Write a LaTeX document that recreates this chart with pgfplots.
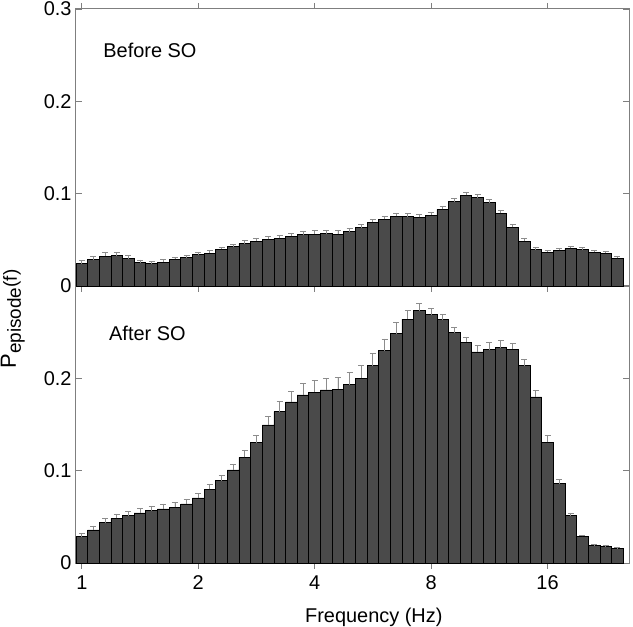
\documentclass[border=0pt]{standalone}
\usepackage{fontspec}
\setmainfont{Liberation Sans}
\usepackage{pgfplots}
\pgfplotsset{compat=1.18}
\usepackage{pgfplotstable}

\definecolor{axisgray}{HTML}{7F7F7F}
\definecolor{barfill}{HTML}{4A4A4A}
\definecolor{errgray}{HTML}{8C8C8C}

\pgfplotstableread{
x y e
0.0 0.0240 0.0035
0.1 0.0284 0.0035
0.2 0.0323 0.0036
0.3 0.0330 0.0036
0.4 0.0295 0.0033
0.5 0.0252 0.0030
0.6 0.0240 0.0025
0.7 0.0258 0.0025
0.8 0.0288 0.0025
0.9 0.0306 0.0025
1.0 0.0338 0.0025
1.1 0.0356 0.0025
1.2 0.0396 0.0025
1.3 0.0425 0.0028
1.4 0.0460 0.0030
1.5 0.0486 0.0033
1.6 0.0505 0.0033
1.7 0.0515 0.0035
1.8 0.0537 0.0036
1.9 0.0555 0.0036
2.0 0.0562 0.0036
2.1 0.0566 0.0036
2.2 0.0562 0.0036
2.3 0.0590 0.0036
2.4 0.0630 0.0036
2.5 0.0689 0.0033
2.6 0.0721 0.0033
2.7 0.0754 0.0033
2.8 0.0750 0.0033
2.9 0.0743 0.0033
3.0 0.0768 0.0033
3.1 0.0830 0.0033
3.2 0.0913 0.0036
3.3 0.0982 0.0036
3.4 0.0957 0.0030
3.5 0.0903 0.0033
3.6 0.0787 0.0036
3.7 0.0635 0.0036
3.8 0.0486 0.0030
3.9 0.0393 0.0020
4.0 0.0367 0.0020
4.1 0.0385 0.0025
4.2 0.0407 0.0025
4.3 0.0393 0.0025
4.4 0.0363 0.0025
4.5 0.0353 0.0025
4.6 0.0298 0.0020
}\before

\pgfplotstableread{
x y e
0.0 0.0285 0.0036
0.1 0.0358 0.0043
0.2 0.0437 0.0047
0.3 0.0484 0.0047
0.4 0.0513 0.0050
0.5 0.0542 0.0050
0.6 0.0567 0.0050
0.7 0.0585 0.0054
0.8 0.0603 0.0050
0.9 0.0639 0.0050
1.0 0.0704 0.0047
1.1 0.0798 0.0050
1.2 0.0892 0.0054
1.3 0.1008 0.0061
1.4 0.1143 0.0072
1.5 0.1305 0.0080
1.6 0.1495 0.0090
1.7 0.1640 0.0105
1.8 0.1744 0.0110
1.9 0.1820 0.0126
2.0 0.1850 0.0126
2.1 0.1874 0.0126
2.2 0.1882 0.0130
2.3 0.1930 0.0134
2.4 0.2001 0.0134
2.5 0.2138 0.0134
2.6 0.2300 0.0126
2.7 0.2484 0.0119
2.8 0.2640 0.0098
2.9 0.2734 0.0072
3.0 0.2687 0.0065
3.1 0.2633 0.0060
3.2 0.2495 0.0054
3.3 0.2391 0.0054
3.4 0.2286 0.0072
3.5 0.2308 0.0083
3.6 0.2333 0.0072
3.7 0.2315 0.0061
3.8 0.2138 0.0069
3.9 0.1798 0.0072
4.0 0.1307 0.0072
4.1 0.0859 0.0050
4.2 0.0513 0.0029
4.3 0.0289 0.0012
4.4 0.0188 0.0012
4.5 0.0177 0.0012
4.6 0.0155 0.0012
}\after

\pgfplotsset{
  panel/.style={
    scale only axis, width=553bp, height=277bp,
    xmin=-0.05, xmax=4.70, ymin=0, ymax=0.3,
    xtick={0,1,2,3,4},
    ytick={0,0.1,0.2,0.3},
    tick align=inside,
    major tick length=6bp,
    axis line style={draw=axisgray, line width=1bp},
    every tick/.style={draw=axisgray, line width=0.9bp},
    font=\fontsize{20}{24}\selectfont,
    ticklabel style={font=\fontsize{20}{24}\selectfont},
    /pgf/number format/assume math mode=true,
    yticklabel style={/pgf/number format/fixed, /pgf/number format/precision=1, xshift=-1bp},
    xticklabel style={yshift=-3bp},
    scaled y ticks=false,
    ybar, bar width=0.1,
    clip=false,
  },
  barplot/.style={
    draw=black, fill=barfill, line width=0.8bp,
    error bars/.cd, y dir=plus, y explicit,
    error mark=-,
    error bar style={draw=errgray, line width=0.9bp},
    error mark options={rotate=90, draw=errgray, mark size=3bp, line width=0.9bp},
  },
}

\begin{document}
\begin{tikzpicture}
\useasboundingbox (-76bp,-64bp) rectangle (557bp,563bp);
% bottom panel
\begin{axis}[panel, at={(0bp,0bp)}, anchor=south west,
  xticklabels={1,2,4,8,16},
  yticklabels={0,0.1,0.2,{}}]
\addplot[barplot] table[x=x, y=y, y error=e] {\after};
\node[anchor=west, font=\fontsize{20}{24}\selectfont] at (axis cs:0.205,0.249) {After SO};
\end{axis}
% top panel
\begin{axis}[panel, at={(0bp,277bp)}, anchor=south west,
  xticklabels={}]
\addplot[barplot] table[x=x, y=y, y error=e] {\before};
\node[anchor=west, font=\fontsize{20}{24}\selectfont] at (axis cs:0.155,0.2555) {Before SO};
\end{axis}
\node[anchor=base east, font=\fontsize{20}{24}\selectfont] at (370bp,-59bp) {Frequency (Hz)};
\node[rotate=90, anchor=base west, font=\fontsize{22}{24}\selectfont] at (-60bp,191bp) {P\raisebox{-5bp}{\fontsize{19}{20}\selectfont episode}\raisebox{-1bp}{\fontsize{19}{20}\selectfont (f)}};
\end{tikzpicture}
\end{document}
